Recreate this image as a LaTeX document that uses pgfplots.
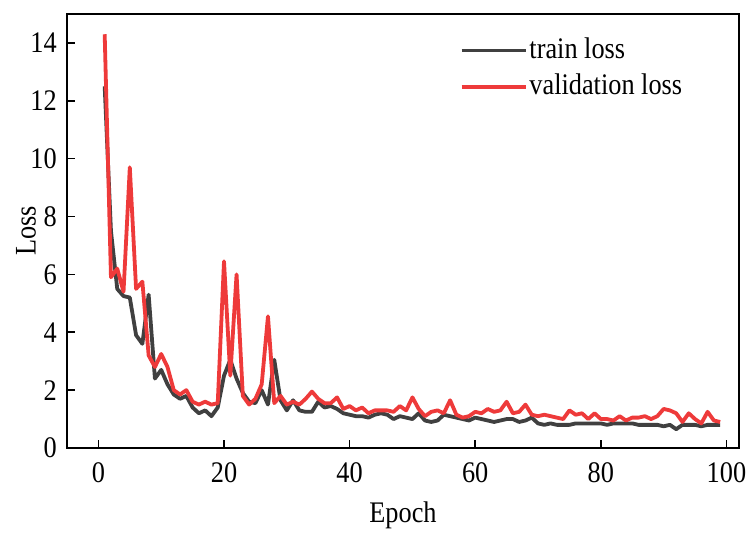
\documentclass[border=0pt]{standalone}
\usepackage{pgfplots}
\pgfplotsset{compat=1.18}
\usepackage{fontspec}
\setmainfont{Liberation Serif}[FakeStretch=0.88]
\definecolor{trainc}{RGB}{64,64,64}
\definecolor{valc}{RGB}{238,58,58}
\begin{document}
\fontsize{30}{34}\selectfont
\begin{tikzpicture}
\begin{axis}[
  scale only axis,
  width=672bp, height=434bp,
  xmin=-5, xmax=102, ymin=0, ymax=15,
  xtick={0,20,40,60,80,100},
  ytick={0,2,4,6,8,10,12,14},
  tick align=inside,
  xtick pos=bottom, ytick pos=left,
  major tick length=8bp,
  axis line style={line width=1.8bp},
  every tick/.style={line width=1.6bp, black},
  /pgf/number format/assume math mode=true,
  tick label style={font=\fontsize{30}{34}\selectfont},
  yticklabel style={inner sep=0bp, xshift=-10bp},
  xticklabel style={inner sep=0bp, yshift=-14bp},
  label style={font=\fontsize{30}{34}\selectfont},
  xlabel={Epoch}, ylabel={Loss},
  xlabel style={at={(axis description cs:0.5,-0.155)}, anchor=center},
  ylabel style={at={(axis description cs:-0.061,0.5)}, anchor=center, rotate=0},
  legend style={draw=none, fill=none, at={(axis description cs:0.584,0.95)}, anchor=north west,
    font=\fontsize{30}{34}\selectfont, row sep=7bp, inner sep=0bp,
    nodes={inner sep=2bp}},
  legend cell align=left,
  legend image code/.code={\draw[#1] (0bp,0bp) -- (64bp,0bp);},
]
\addplot[trainc, line width=3.8bp, line join=round] coordinates {
(1,12.5)(2,7.5)(3,5.5)(4,5.25)(5,5.2)(6,3.9)(7,3.6)(8,5.3)(9,2.4)(10,2.7)
(11,2.2)(12,1.85)(13,1.7)(14,1.8)(15,1.4)(16,1.2)(17,1.3)(18,1.1)(19,1.4)(20,2.5)
(21,3.05)(22,2.4)(23,1.9)(24,1.6)(25,1.55)(26,2.0)(27,1.5)(28,3.05)(29,1.65)(30,1.3)
(31,1.65)(32,1.3)(33,1.25)(34,1.25)(35,1.6)(36,1.4)(37,1.45)(38,1.35)(39,1.2)(40,1.15)
(41,1.1)(42,1.1)(43,1.05)(44,1.15)(45,1.2)(46,1.15)(47,1.0)(48,1.1)(49,1.05)(50,1.0)
(51,1.2)(52,0.95)(53,0.9)(54,0.95)(55,1.15)(56,1.1)(57,1.05)(58,1.0)(59,0.95)(60,1.05)
(61,1.0)(62,0.95)(63,0.9)(64,0.95)(65,1.0)(66,1.0)(67,0.9)(68,0.95)(69,1.05)(70,0.85)
(71,0.8)(72,0.85)(73,0.8)(74,0.8)(75,0.8)(76,0.85)(77,0.85)(78,0.85)(79,0.85)(80,0.85)
(81,0.8)(82,0.85)(83,0.85)(84,0.85)(85,0.85)(86,0.8)(87,0.8)(88,0.8)(89,0.8)(90,0.75)
(91,0.8)(92,0.65)(93,0.8)(94,0.8)(95,0.8)(96,0.75)(97,0.8)(98,0.8)(99,0.8)
};
\addlegendentry{train loss}
\addplot[valc, line width=3.8bp, line join=round] coordinates {
(1,14.3)(2,5.9)(3,6.2)(4,5.4)(5,9.7)(6,5.5)(7,5.75)(8,3.2)(9,2.8)(10,3.25)
(11,2.8)(12,2.0)(13,1.85)(14,2.0)(15,1.6)(16,1.5)(17,1.6)(18,1.5)(19,1.55)(20,6.45)
(21,2.5)(22,6.0)(23,1.8)(24,1.5)(25,1.7)(26,2.2)(27,4.55)(28,1.55)(29,1.8)(30,1.5)
(31,1.6)(32,1.5)(33,1.7)(34,1.95)(35,1.7)(36,1.55)(37,1.55)(38,1.75)(39,1.35)(40,1.45)
(41,1.3)(42,1.4)(43,1.2)(44,1.3)(45,1.3)(46,1.3)(47,1.25)(48,1.45)(49,1.3)(50,1.75)
(51,1.35)(52,1.1)(53,1.25)(54,1.3)(55,1.2)(56,1.65)(57,1.15)(58,1.05)(59,1.1)(60,1.25)
(61,1.2)(62,1.35)(63,1.25)(64,1.3)(65,1.6)(66,1.2)(67,1.25)(68,1.5)(69,1.15)(70,1.1)
(71,1.15)(72,1.1)(73,1.05)(74,1.0)(75,1.3)(76,1.15)(77,1.2)(78,1.0)(79,1.2)(80,1.0)
(81,1.0)(82,0.95)(83,1.1)(84,0.95)(85,1.05)(86,1.05)(87,1.1)(88,1.0)(89,1.1)(90,1.35)
(91,1.3)(92,1.2)(93,0.9)(94,1.2)(95,1.0)(96,0.85)(97,1.25)(98,0.95)(99,0.9)
};
\addlegendentry{validation loss}
\end{axis}
\path[use as bounding box] ([xshift=-67bp,yshift=-79bp]current axis.south west) rectangle ([xshift=10bp,yshift=14bp]current axis.north east);
\end{tikzpicture}
\end{document}
